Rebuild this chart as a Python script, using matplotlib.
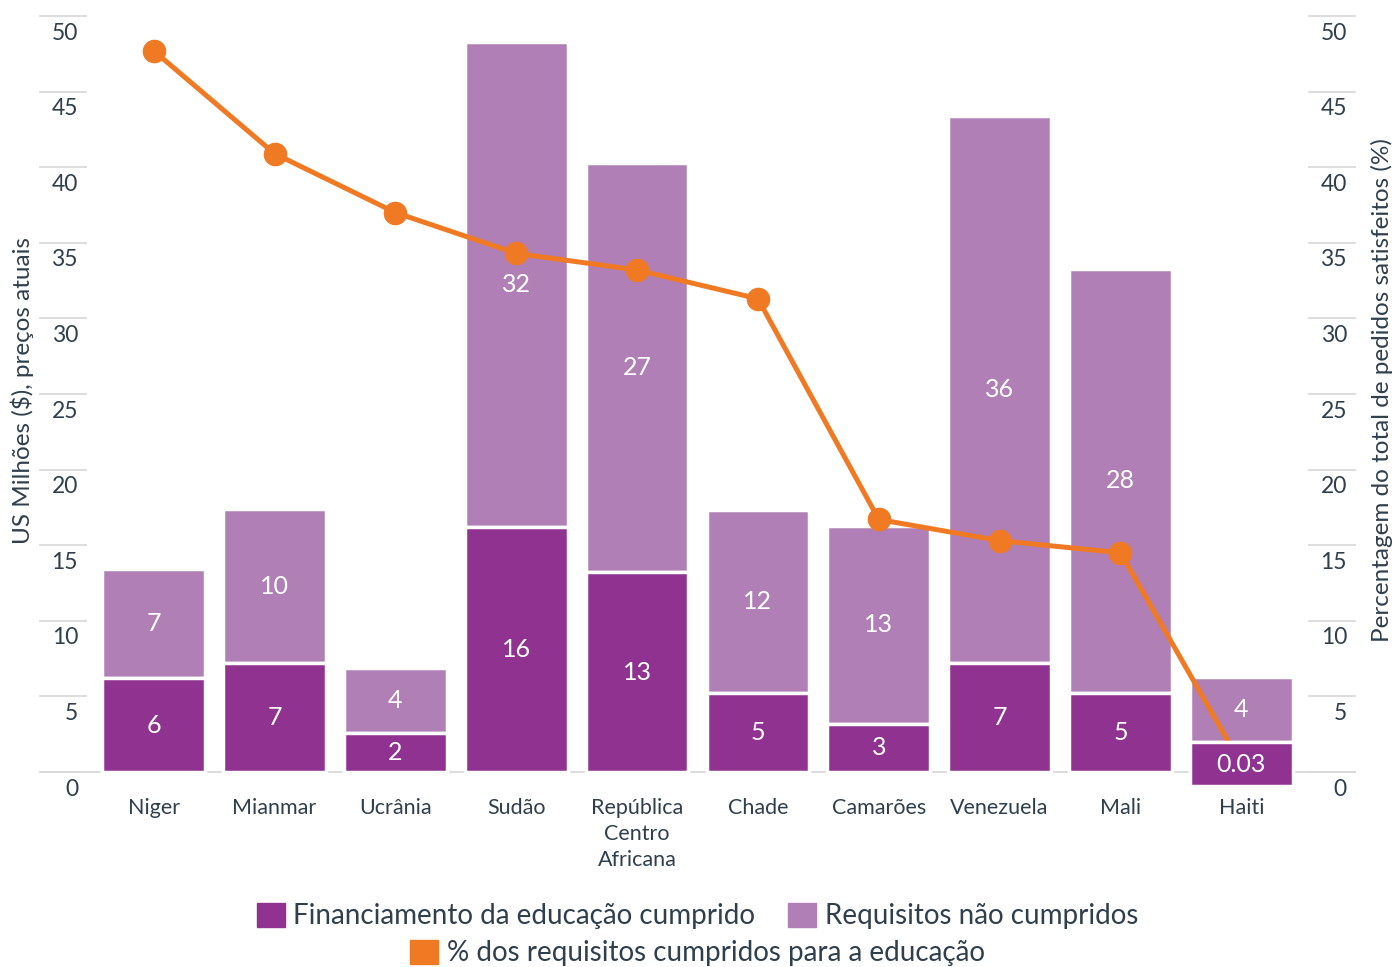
import matplotlib.pyplot as plt
import matplotlib.patches as mpatches
import matplotlib.transforms as mtransforms
import numpy as np

plt.rcParams['font.family'] = ['Lato', 'DejaVu Sans']

countries = ['Niger', 'Mianmar', 'Ucrânia', 'Sudão', 'República\nCentro\nAfricana',
             'Chade', 'Camarões', 'Venezuela', 'Mali', 'Haiti']
funded = [6.2, 7.2, 2.6, 16.2, 13.2, 5.2, 3.2, 7.2, 5.2, 0.03]
unmet = [7.2, 10.2, 4.3, 32.1, 27.1, 12.1, 13.1, 36.2, 28.1, 4.3]
funded_labels = ['6', '7', '2', '16', '13', '5', '3', '7', '5', '0.03']
unmet_labels = ['7', '10', '4', '32', '27', '12', '13', '36', '28', '4']
pct_met = [47.7, 40.9, 37.0, 34.3, 33.2, 31.3, 16.7, 15.3, 14.5, 0.5]

DARK = '#8f3290'
LIGHT = '#b07fb5'
ORANGE = '#f07a23'
TEXT = '#2f3f4c'
GRID = '#dadada'
TINY = 1.0      # values below this get a minimum-size block
MIN_LEN = 2.9   # height of that block

fig = plt.figure(figsize=(13.95, 9.67), dpi=100)
ax = fig.add_axes([86 / 1395, 1 - 772 / 967, (1309 - 86) / 1395, (772 - 16) / 967])
ax.set_xlim(-0.56, 9.56)
ax.set_ylim(0, 50)
ax.axis('off')

x = np.arange(len(countries))
funded = np.array(funded)
unmet = np.array(unmet)

# tiny values still get a visible block, hanging below the baseline
f_bottom = np.where(funded < TINY, -0.93, 0.0)
f_height = np.where(funded < TINY, MIN_LEN, funded)
f_top = f_bottom + f_height

w = 0.85
ax.bar(x, unmet, w, bottom=f_top, color=LIGHT, edgecolor='white', linewidth=2.5, zorder=2)
ax.bar(x, f_height, w, bottom=f_bottom, color=DARK, edgecolor='white', linewidth=2.5,
       zorder=4, clip_on=False)

for i in range(len(x)):
    ax.text(x[i], f_bottom[i] + f_height[i] / 2, funded_labels[i], color='white',
            fontsize=18, ha='center', va='center', zorder=5)
    ax.text(x[i], f_top[i] + unmet[i] / 2, unmet_labels[i], color='white',
            fontsize=18, ha='center', va='center', zorder=5)

# percentage line (right axis uses the same 0-50 range)
ax.plot(x, pct_met, color=ORANGE, lw=3.6, marker='o', ms=16, zorder=3, clip_on=False)

# y scales: short guide lines in the margins, labels just beneath them
ticks = np.arange(0, 55, 5)
tr = mtransforms.blended_transform_factory(ax.transAxes, ax.transData)
off = mtransforms.offset_copy(tr, fig=fig, y=-17, units='dots')
lx0, lx1 = -46 / 1223, 0
rx0, rx1 = 1.0, 1 + 46 / 1223
for t in ticks:
    ax.plot([lx0, lx1], [t, t], transform=tr, color=GRID, lw=1.3, clip_on=False, zorder=1)
    ax.plot([rx0, rx1], [t, t], transform=tr, color=GRID, lw=1.3, clip_on=False, zorder=1)
    ax.text(-8 / 1223, t, str(t), transform=off, ha='right', va='center',
            fontsize=16.5, color=TEXT)
    ax.text(1 + 38 / 1223, t, str(t), transform=off, ha='right', va='center',
            fontsize=16.5, color=TEXT)
ax.plot([lx0, rx1], [0, 0], transform=tr, color=GRID, lw=1.3, clip_on=False, zorder=1)

for i, c in enumerate(countries):
    ax.text(x[i], -1.75, c, ha='center', va='top', fontsize=15.5, color=TEXT,
            linespacing=1.35)

fig.text(22 / 1395, 1 - 390 / 967, 'US Milhões ($), preços atuais', rotation=90,
         ha='center', va='center', fontsize=17.5, color=TEXT)
fig.text(1382 / 1395, 1 - 390 / 967, 'Percentagem do total de pedidos satisfeitos (%)',
         rotation=90, ha='center', va='center', fontsize=17.5, color=TEXT)

h1 = mpatches.Patch(color=DARK, label='Financiamento da educação cumprido')
h2 = mpatches.Patch(color=LIGHT, label='Requisitos não cumpridos')
h3 = mpatches.Patch(color=ORANGE, label='% dos requisitos cumpridos para a educação')
kw = dict(frameon=False, fontsize=20, handlelength=1.0, handleheight=1.0,
          handletextpad=0.3, labelcolor=TEXT, borderpad=0, borderaxespad=0)
fig.legend(handles=[h1, h2], loc='center', bbox_to_anchor=(0.5, 1 - 916 / 967),
           ncol=2, columnspacing=1.2, **kw)
fig.legend(handles=[h3], loc='center', bbox_to_anchor=(0.5, 1 - 953 / 967), **kw)

fig.savefig('out.png', dpi=100)
